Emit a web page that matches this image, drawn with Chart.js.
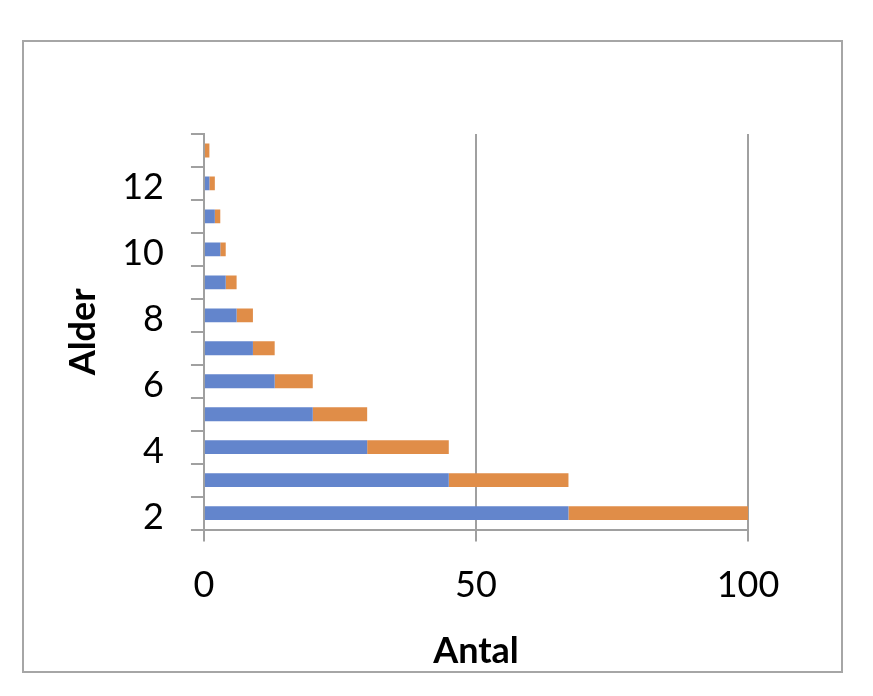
<!DOCTYPE html>
<html lang="sv">
<head>
  <meta charset="UTF-8">
  <title>Alder / Antal</title>
  <script src="https://cdn.jsdelivr.net/npm/chart.js"></script>
  <style>
    body {
      margin: 0;
      background: #ffffff;
      font-family: Lato, sans-serif;
    }
    .frame {
      position: absolute;
      left: 22px;
      top: 40px;
      width: 821px;
      height: 633px;
      box-sizing: border-box;
      border: 2px solid #a6a6a6;
    }
    .chart-box {
      position: absolute;
      left: 0;
      top: 0;
      width: 873px;
      height: 696px;
    }
  </style>
</head>
<body>
  <div class="frame"></div>
  <div class="chart-box">
    <canvas id="alderChart"></canvas>
  </div>

  <script>
    // Data läst från bilden
    const categories = ['2', '3', '4', '5', '6', '7', '8', '9', '10', '11', '12', '13'];
    const serie1 = [67, 45, 30, 20, 13, 9, 6, 4, 3, 2, 1, 0];
    const serie2 = [33, 22, 15, 10, 7, 4, 3, 2, 1, 1, 1, 1];
    const xTicks = [0, 50, 100];

    const grey = '#a0a0a0';

    const ctx = document.getElementById('alderChart').getContext('2d');
    new Chart(ctx, {
      type: 'bar',
      data: {
        labels: categories,
        datasets: [
          {
            label: 'Serie 1',
            data: serie1,
            backgroundColor: '#6385cc',
            barPercentage: 0.42,
            categoryPercentage: 1
          },
          {
            label: 'Serie 2',
            data: serie2,
            backgroundColor: '#e08d48',
            barPercentage: 0.42,
            categoryPercentage: 1
          }
        ]
      },
      options: {
        indexAxis: 'y',
        responsive: true,
        maintainAspectRatio: false,
        animation: false,
        layout: {
          padding: { left: 62, right: 125, top: 134, bottom: 23 }
        },
        plugins: {
          legend: { display: false },
          tooltip: { enabled: true }
        },
        scales: {
          x: {
            stacked: true,
            min: 0,
            max: 100,
            afterBuildTicks: (scale) => {
              scale.ticks = xTicks.map(v => ({ value: v }));
            },
            grid: {
              color: grey,
              lineWidth: 2,
              tickLength: 12
            },
            border: { color: grey, width: 2 },
            ticks: {
              color: '#000000',
              font: { family: 'Lato', size: 36 },
              padding: 22
            },
            title: {
              display: true,
              text: 'Antal',
              color: '#000000',
              font: { family: 'Lato', size: 36, weight: 'bold' },
              padding: { top: 1, bottom: 0 }
            }
          },
          y: {
            stacked: true,
            reverse: true,
            afterFit: (scale) => {
              scale.width -= 10;
            },
            grid: {
              offset: true,
              drawOnChartArea: false,
              color: grey,
              lineWidth: 2,
              tickLength: 13
            },
            border: { color: grey, width: 2 },
            ticks: {
              color: '#000000',
              font: { family: 'Lato', size: 36 },
              padding: 27,
              labelOffset: 4,
              autoSkip: false,
              callback: function (value) {
                const lab = this.getLabelForValue(value);
                return Number(lab) % 2 === 0 ? lab : '';
              }
            },
            title: {
              display: true,
              text: 'Alder',
              color: '#000000',
              font: { family: 'Lato', size: 36, weight: 'bold' },
              padding: { top: 0, bottom: 0 }
            }
          }
        }
      }
    });
  </script>
</body>
</html>
